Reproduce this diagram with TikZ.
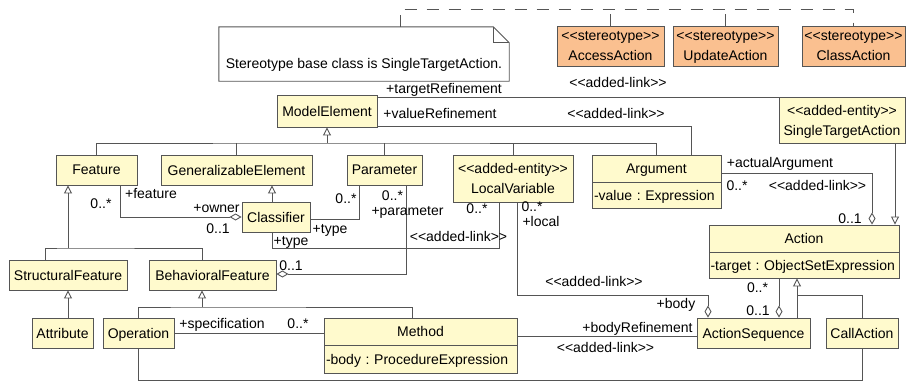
\documentclass[tikz,border=0pt]{standalone}
\usepackage{fontspec}
\setmainfont{Liberation Sans}
\usepackage{tikz}
\usetikzlibrary{arrows.meta}

\definecolor{clsfill}{RGB}{255,250,205}
\definecolor{sterfill}{RGB}{250,192,144}
\definecolor{umlline}{RGB}{85,85,85}

\newcommand{\guil}[1]{<\kern0pt<#1>\kern0pt>}
\frenchspacing

\begin{document}
\begin{tikzpicture}[x=1pt, y=-1pt,
  every node/.style={font=\fontsize{14}{20}\selectfont, inner sep=0pt},
  cls/.style={draw=umlline, fill=clsfill, line width=0.9pt, minimum height=30, text depth=0pt, align=center},
  ster/.style={cls, fill=sterfill, minimum height=40},
  attr/.style={cls, align=left, execute at begin node={\hyphenpenalty=10000\relax}},
  lbl/.style={text height=10pt, text depth=0pt},
  assoc/.style={draw=umlline, line width=0.9pt},
  gen/.style={assoc, -{Triangle[open, length=8pt, width=8pt]}},
  agg/.style={assoc, {Diamond[open, length=12pt, width=7pt]}-},
  notelink/.style={assoc, dash pattern=on 12pt off 10pt}]
  \useasboundingbox (0,0) rectangle (907,383);

  % Note and stereotypes
  \node[minimum width=290, minimum height=54, text height=31pt, text depth=3pt] (note) at (364,54) {Stereotype base class is SingleTargetAction.};
  \draw[assoc] (note.north west) -- ([xshift=-16]note.north east) -- ([yshift=-16]note.north east) -- (note.south east) -- (note.south west) -- cycle;
  \draw[assoc] ([xshift=-16]note.north east) |- ([yshift=-16]note.north east);

  \node[ster, minimum width=107] (access) at (610.5,46) {\guil{stereotype}\\AccessAction};
  \node[ster, minimum width=105] (update) at (725.5,46) {\guil{stereotype}\\UpdateAction};
  \node[ster, minimum width=103] (classact) at (853.5,46) {\guil{stereotype}\\ClassAction};

  \coordinate (hub) at (400,9.5);
  \draw[notelink] ([xshift=36]note.north) -- (hub) -| (classact.north);
  \draw[notelink] (access.north) -- (access.north |- hub);
  \draw[notelink] (update.north) -- (update.north |- hub);

  % Classes
  \node[cls, minimum width=100, minimum height=32] (modelel) at (327,111) {ModelElement};
  \node[cls, minimum width=81] (feature) at (96.5,170) {Feature};
  \node[cls, minimum width=151] (genel) at (236.5,170) {GeneralizableElement};
  \node[cls, minimum width=75] (param) at (384.5,170) {Parameter};
  \node[cls, minimum width=120, minimum height=47] (localvar) at (513,178.5) {\guil{added-entity}\\LocalVariable};
  \node[cls, minimum width=129, minimum height=27] (argument) at (656.5,168.5) {Argument};
  \node[attr, minimum width=129, text width=125, minimum height=26] (argattr) at (656.5,195) {-value : Expression};
  \node[cls, minimum width=126, minimum height=46] (singletgt) at (842,120) {\guil{added-entity}\\SingleTargetAction};
  \node[cls, minimum width=68] (classifier) at (276,217) {Classifier};
  \node[cls, minimum width=118] (structfeat) at (68,275) {StructuralFeature};
  \node[cls, minimum width=127] (behavfeat) at (212.5,275) {BehavioralFeature};
  \node[cls, minimum width=61] (attribute) at (62.5,333) {Attribute};
  \node[cls, minimum width=71] (operation) at (138.5,333) {Operation};
  \node[cls, minimum width=193, minimum height=27] (method) at (420.5,331.5) {Method};
  \node[attr, minimum width=193, text width=189, minimum height=28] (methattr) at (420.5,359) {-body : ProcedureExpression};
  \node[cls, minimum width=190, minimum height=27] (action) at (804,238.5) {Action};
  \node[attr, minimum width=190, text width=187, minimum height=26] (actattr) at (804,265) {-target : ObjectSetExpression};
  \node[cls, minimum width=113] (actseq) at (753.5,333) {ActionSequence};
  \node[cls, minimum width=72] (callaction) at (862,333) {CallAction};

  % Generalizations
  \coordinate (mebus) at (327,143);
  \draw[gen] (mebus) -- (modelel.south);
  \draw[assoc] (feature.north) |- (mebus) -| (argument.north);
  \foreach \n in {genel, param, localvar}
    \draw[assoc] (\n.north) -- (\n.north |- mebus);

  \coordinate (febus) at (68,248);
  \draw[gen] (febus) -- (febus |- feature.south);
  \draw[assoc] ([xshift=-23]structfeat.north) |- (febus) -| ([xshift=-10.5]behavfeat.north);
  \draw[gen] (structfeat.south |- attribute.north) -- (structfeat.south);

  \coordinate (bfbus) at (202,307);
  \draw[gen] (bfbus) -- (bfbus |- behavfeat.south);
  \draw[assoc] (operation.north) |- (bfbus) -| ([xshift=-8.5]method.north);

  \draw[gen] ([xshift=-4]classifier.north) -- ([xshift=-4]classifier.north |- genel.south);

  \draw[gen] ([xshift=43.5]actseq.north) -- ([xshift=43.5]actseq.north |- actattr.south);
  \draw[assoc] (callaction.north) |- ([xshift=43.5, yshift=22]actseq.north);
  \draw[gen] ([xshift=53]singletgt.south) -- ([xshift=53]singletgt.south |- action.north);

  % Associations
  \draw[assoc] ([yshift=14]modelel.east) -- ([yshift=14]modelel.east -| singletgt.west);
  \draw[assoc] ([yshift=-15]modelel.east) -| ([xshift=34.5]argument.north);
  \draw[agg] (classifier.west) -| ([xshift=23.5]feature.south);
  \draw[assoc] ([yshift=-2]classifier.east) -| ([xshift=-25.5]param.south);
  \draw[assoc] ([xshift=-4]classifier.south) -- ++(0,16) -| ([xshift=-14]localvar.south);
  \draw[agg] ([yshift=1]behavfeat.east) -| ([xshift=21.5]param.south);
  \draw[agg] ([xshift=-45.5]actseq.north) -- ++(0,-22) -| ([xshift=4]localvar.south);
  \draw[assoc] ([yshift=-4.5]method.east) -- ([yshift=-4.5]method.east -| actseq.west);
  \draw[assoc] (operation.east) -- (operation.east -| method.west);
  \draw[assoc] (operation.south) -- ++(0,32) -| (callaction.south);
  \draw[agg] ([xshift=25.5]actseq.north) -- ([xshift=25.5]actseq.north |- actattr.south);
  \draw[agg] ([xshift=68]action.north) |- ([yshift=-4.5]argument.east);

  % Role names and multiplicities
  \node[lbl] (tgtrole) at (444,88) {+targetRefinement};
  \node[lbl] (tgtlink) at (618,82) {\guil{added-link}};
  \node[lbl] (valrole) at (440,113) {+valueRefinement};
  \node[lbl] (vallink) at (616,113) {\guil{added-link}};
  \node[lbl] (featrole) at (151,193) {+feature};
  \node[lbl] (featmult) at (101,203) {0..*};
  \node[lbl] (ownrole) at (216.5,207) {+owner};
  \node[lbl] (ownmult) at (218,228) {0..1};
  \node[lbl] (ptypemult) at (346,198) {0..*};
  \node[lbl] (ptyperole) at (330,228) {+type};
  \node[lbl] (ltyperole) at (291,240) {+type};
  \node[lbl] (ltypemult) at (477,208) {0..*};
  \node[lbl] (ltypelink) at (458.5,236) {\guil{added-link}};
  \node[lbl] (parmult) at (392.5,195) {0..*};
  \node[lbl] (parrole) at (407.5,210) {+parameter};
  \node[lbl] (bfmult) at (291,265) {0..1};
  \node[lbl] (locmult) at (532,206) {0..*};
  \node[lbl] (locrole) at (541,221) {+local};
  \node[lbl] (loclink) at (594,281) {\guil{added-link}};
  \node[lbl] (bodyrole) at (676,303) {+body};
  \node[lbl] (bodyref) at (637.5,327) {+bodyRefinement};
  \node[lbl] (bodylink) at (605.5,347) {\guil{added-link}};
  \node[lbl] (specrole) at (222,323) {+specification};
  \node[lbl] (specmult) at (298,323) {0..*};
  \node[lbl] (actmult) at (757.5,287) {0..*};
  \node[lbl] (seqmult) at (758,310) {0..1};
  \node[lbl] (argrole) at (780,162) {+actualArgument};
  \node[lbl] (argmult) at (737,185) {0..*};
  \node[lbl] (arglink) at (817.5,185) {\guil{added-link}};
  \node[lbl] (argact) at (850,218) {0..1};

\end{tikzpicture}
\end{document}
